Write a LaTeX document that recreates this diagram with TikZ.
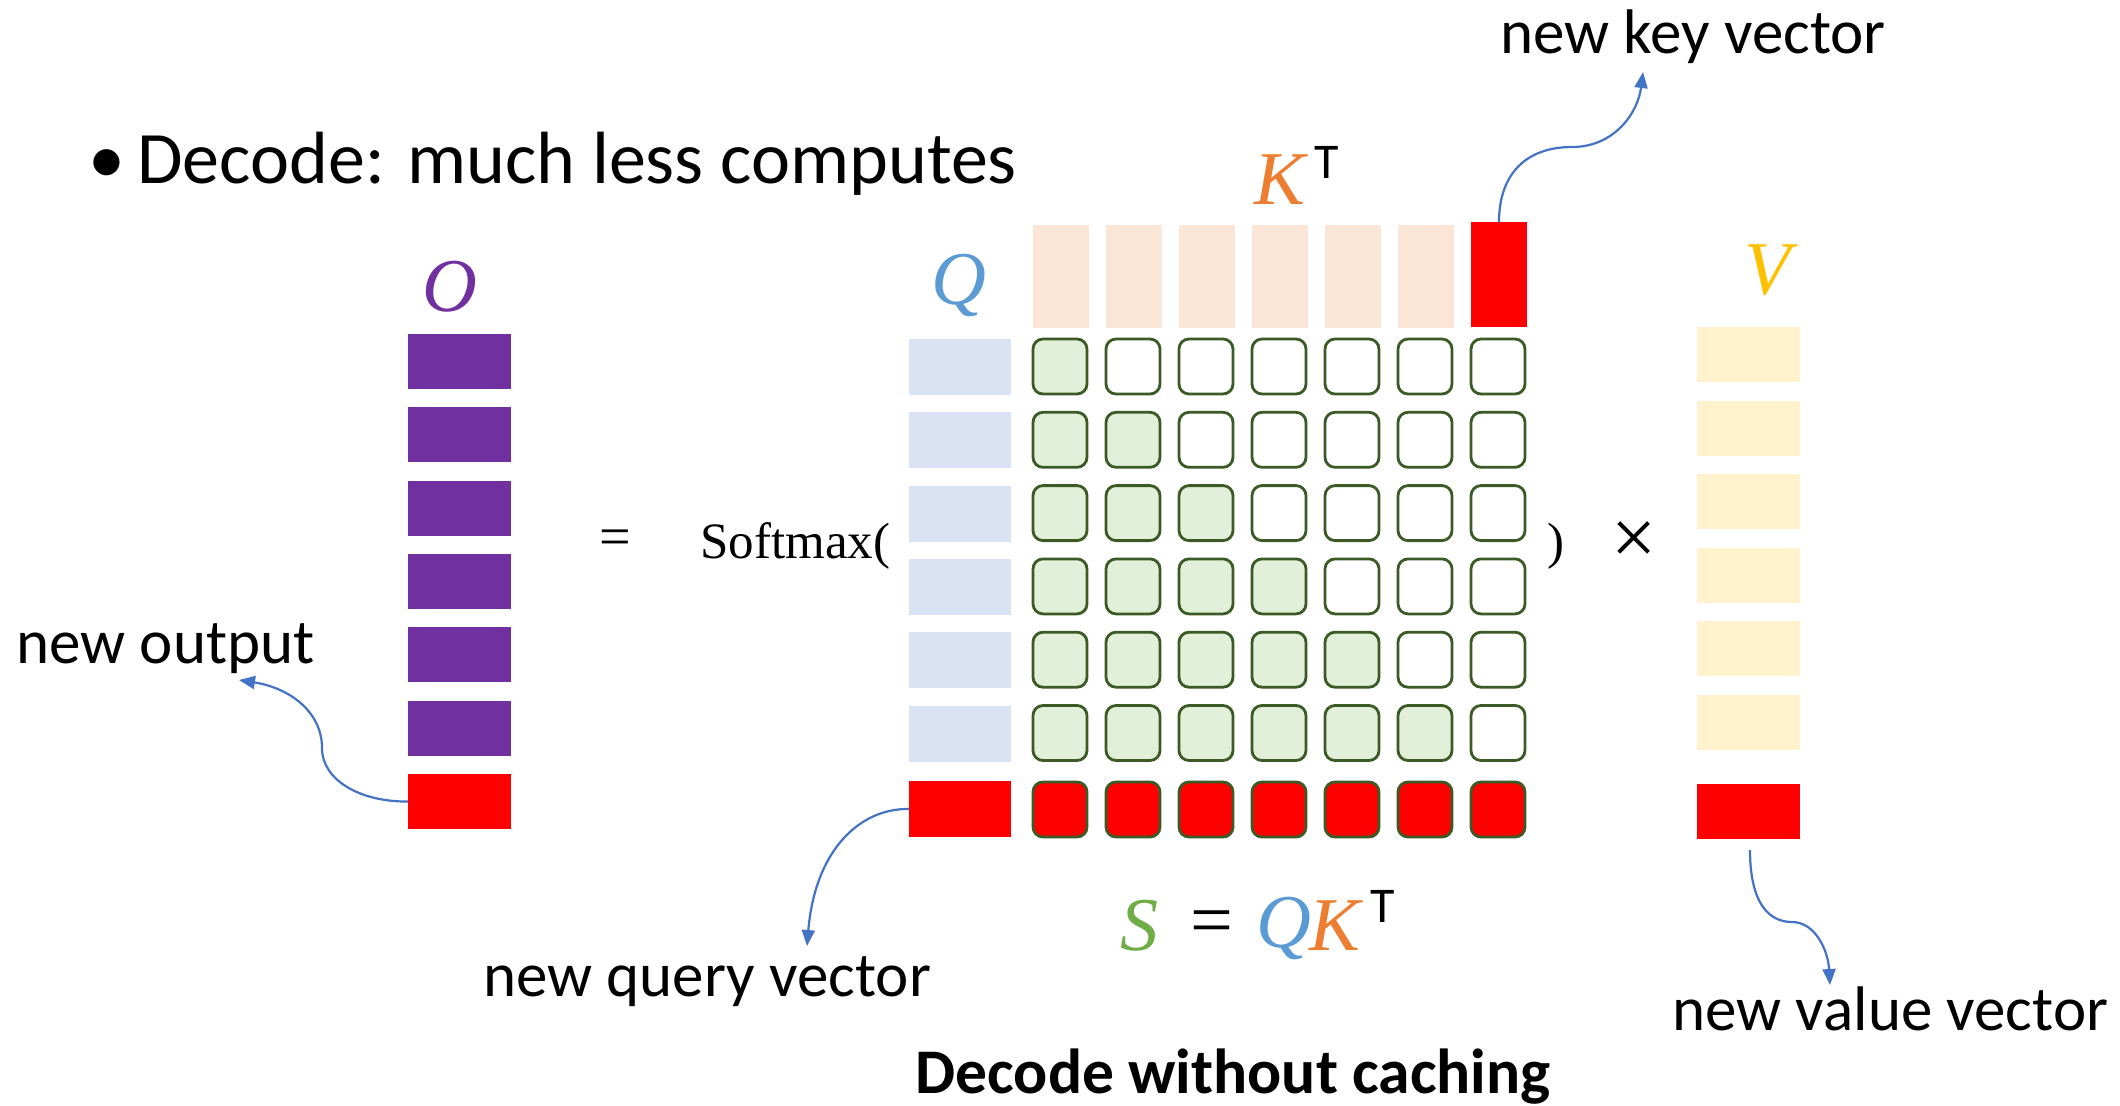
\documentclass[tikz,border=0pt]{standalone}
\usepackage{fontspec}
\setmainfont{Carlito}
\newfontfamily\serif{Liberation Serif}
\usetikzlibrary{arrows.meta}
\definecolor{opurple}{HTML}{7030A0}
\definecolor{redc}{HTML}{FF0000}
\definecolor{qfill}{HTML}{DAE3F3}
\definecolor{kfill}{HTML}{FBE5D6}
\definecolor{vfill}{HTML}{FFF2CC}
\definecolor{sfill}{HTML}{E2F0D9}
\definecolor{sline}{HTML}{3B5A26}
\definecolor{arrowblue}{HTML}{4472C4}
\definecolor{qblue}{HTML}{5B9BD5}
\definecolor{korange}{HTML}{ED7D31}
\definecolor{vgold}{HTML}{FFC000}
\definecolor{sgreen}{HTML}{70AD47}
\begin{document}
\begin{tikzpicture}[x=0.5pt,y=-0.5pt,
  blk/.style={inner sep=0pt,outer sep=0pt,anchor=north west,draw=none},
  obar/.style={blk,fill=opurple,minimum width=51.5pt,minimum height=27.5pt},
  qbar/.style={blk,fill=qfill,minimum width=51pt,minimum height=28pt},
  kbar/.style={blk,fill=kfill,minimum width=28pt,minimum height=51.5pt},
  vbar/.style={blk,fill=vfill,minimum width=51.5pt,minimum height=27.5pt},
  cell/.style={blk,draw=sline,line width=1.4pt,rounded corners=5pt,minimum width=27pt,minimum height=27.5pt,fill=white},
  lbl/.style={font=\fontsize{31.5}{36}\selectfont,inner sep=0pt,anchor=base west},
  hdr/.style={font=\fontsize{37}{44}\selectfont,inner sep=0pt,anchor=base west},
  mathl/.style={font=\fontsize{38}{44}\selectfont\serif\itshape,inner sep=0pt},
  supT/.style={font=\fontsize{25}{30}\selectfont,inner sep=0pt},
  sym/.style={font=\fontsize{25.5}{30}\selectfont\serif,inner sep=0pt},
  conn/.style={draw=arrowblue,line width=1.1pt,-{Triangle[length=8pt,width=6.5pt]}}
]
\fill[white] (0,0) rectangle (2120,1105);
\useasboundingbox (0,0) rectangle (2120,1105);

% header
\node[hdr] (bullet) at (88,183) {•};
\node[hdr] (title) at (137,183) {Decode: much less computes};

% O column
\foreach \k in {0,...,5}{\node[obar] (o\k) at (408,{334+73.3*\k}) {};}
\node[obar,fill=redc] (ored) at (408,774) {};
\node[mathl,text=opurple] (Olab) at (450,287) {O};

% equals and softmax
\node[sym,font=\fontsize{28}{32}\selectfont\serif] (eq1) at (615,543) {=};
\node[sym,anchor=base west] (softmax) at (700,558) {Softmax(};
\node[sym] (rpar) at (1556,546) {)};
\node[sym,font=\fontsize{40}{44}\selectfont\serif] (times) at (1634,543) {×};

% Q column
\foreach \k in {0,...,5}{\node[qbar] (q\k) at (909,{339+73.3*\k}) {};}
\node[qbar,fill=redc] (qred) at (909,781) {};
\node[mathl,text=qblue] (Qlab) at (959,285) {Q};

% K^T bars
\foreach \c in {0,...,5}{\node[kbar] (k\c) at ({1033+73*\c},225) {};}
\node[kbar,fill=redc,minimum height=52.5pt] (kred) at (1471,222) {};
\node[mathl,text=korange] (Klab) at (1280,180) {K};
\node[supT] (KT) at (1327,162) {T};

% score grid
\foreach \r in {0,...,5}{\foreach \c in {0,...,6}{%
  \ifnum\c>\r \def\cf{white}\else\def\cf{sfill}\fi
  \node[cell,fill=\cf] (s\r\c) at ({1033+73*\c},{339+73.3*\r}) {};
}}
\foreach \c in {0,...,6}{\node[cell,fill=redc] (sr\c) at ({1033+73*\c},782) {};}

% V column
\foreach \k in {0,...,5}{\node[vbar] (v\k) at (1697,{327+73.5*\k}) {};}
\node[vbar,fill=redc] (vred) at (1697,784) {};
\node[mathl,text=vgold] (Vlab) at (1768,270) {V};

% S = QK^T
\node[mathl,text=sgreen] (Sf) at (1139,926) {S};
\node[mathl,font=\fontsize{38}{44}\selectfont\serif] (eq2) at (1212,928) {=};
\node[mathl,text=qblue] (Qf) at (1284,928) {Q};
\node[mathl,text=korange] (Kf) at (1335,926) {K};
\node[supT] (Tf) at (1383,906) {T};

% labels
\node[lbl] (newkey) at (1500,53) {new key vector};
\node[lbl] (newout) at (16,663) {new output};
\node[lbl] (newquery) at (483,996) {new query vector};
\node[lbl] (newvalue) at (1672,1030) {new value vector};
\node[lbl,font=\fontsize{31.8}{36}\selectfont\bfseries] (caption) at (915,1093) {Decode without caching};

% connector ends
\coordinate (keytip) at (1643,72);
\coordinate (outtip) at (239,680);
\coordinate (qtip) at (807,946);
\coordinate (vstart) at (1750,850);
\coordinate (vtip) at (1830,985);

% connectors
\draw[conn] (kred.north) .. controls (1499,175) and (1525,147) .. (1572,147)
  .. controls (1615,147) and (1638,112) .. (keytip);
\draw[conn] (ored.west) .. controls (360,802) and (322,780) .. (322,748)
  .. controls (322,712) and (290,688) .. (outtip);
\draw[conn] (qred.west) .. controls (860,808) and (815,850) .. (qtip);
\draw[conn] (vstart) .. controls (1750,905) and (1770,922) .. (1792,922)
  .. controls (1815,922) and (1828,950) .. (vtip);
\end{tikzpicture}
\end{document}
